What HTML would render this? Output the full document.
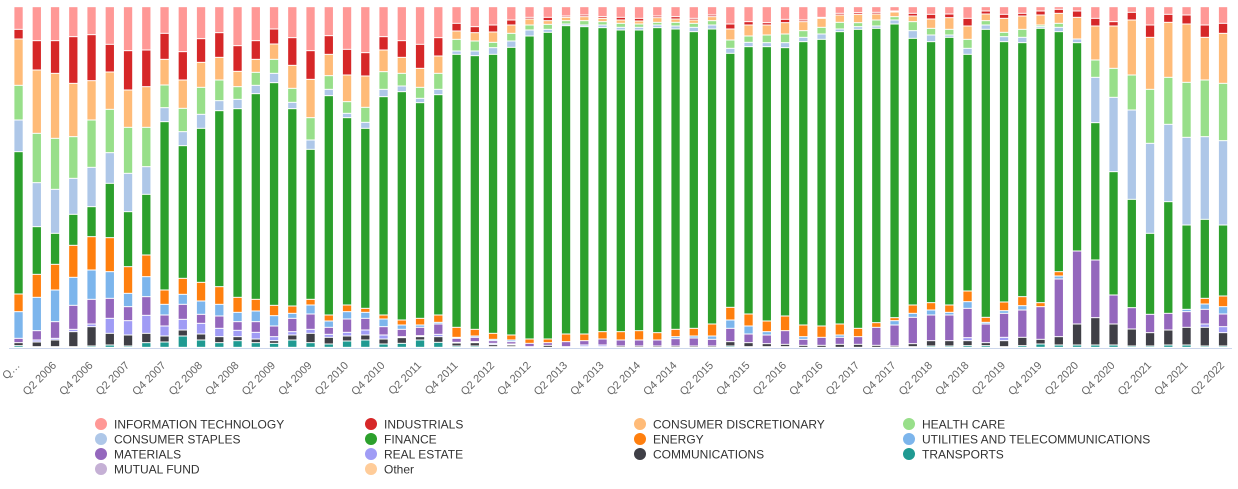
<!DOCTYPE html>
<html>
<head>
<meta charset="utf-8">
<style>
  html,body{margin:0;padding:0;background:#fff;}
  body{width:1238px;height:489px;overflow:hidden;}
  svg{display:block;}
  .xl{font-family:"Liberation Sans",sans-serif;font-size:11px;fill:#666666;}
  .lg{font-family:"Liberation Sans",sans-serif;font-size:12px;fill:#333333;}
</style>
</head>
<body>
<svg id="chart" width="1238" height="489" viewBox="0 0 1238 489" xmlns="http://www.w3.org/2000/svg">
  <rect x="0" y="0" width="1238" height="489" fill="#ffffff"/>
  <g id="bars"></g>
  <line x1="9" y1="348.5" x2="1232" y2="348.5" stroke="#ccd6eb" stroke-width="1"/>
  <g class="xl" text-anchor="end">
    <text transform="translate(20.5,366) rotate(-45)">Q…</text>
    <text transform="translate(57,366) rotate(-45)">Q2 2006</text>
    <text transform="translate(93.5,366) rotate(-45)">Q4 2006</text>
    <text transform="translate(130,366) rotate(-45)">Q2 2007</text>
    <text transform="translate(166.5,366) rotate(-45)">Q4 2007</text>
    <text transform="translate(203,366) rotate(-45)">Q2 2008</text>
    <text transform="translate(239.5,366) rotate(-45)">Q4 2008</text>
    <text transform="translate(276,366) rotate(-45)">Q2 2009</text>
    <text transform="translate(312.5,366) rotate(-45)">Q4 2009</text>
    <text transform="translate(349,366) rotate(-45)">Q2 2010</text>
    <text transform="translate(385.5,366) rotate(-45)">Q4 2010</text>
    <text transform="translate(422,366) rotate(-45)">Q2 2011</text>
    <text transform="translate(458.5,366) rotate(-45)">Q4 2011</text>
    <text transform="translate(495,366) rotate(-45)">Q2 2012</text>
    <text transform="translate(531.5,366) rotate(-45)">Q4 2012</text>
    <text transform="translate(568,366) rotate(-45)">Q2 2013</text>
    <text transform="translate(604.5,366) rotate(-45)">Q4 2013</text>
    <text transform="translate(641,366) rotate(-45)">Q2 2014</text>
    <text transform="translate(677.5,366) rotate(-45)">Q4 2014</text>
    <text transform="translate(714,366) rotate(-45)">Q2 2015</text>
    <text transform="translate(750.5,366) rotate(-45)">Q4 2015</text>
    <text transform="translate(787,366) rotate(-45)">Q2 2016</text>
    <text transform="translate(823.5,366) rotate(-45)">Q4 2016</text>
    <text transform="translate(860,366) rotate(-45)">Q2 2017</text>
    <text transform="translate(896.5,366) rotate(-45)">Q4 2017</text>
    <text transform="translate(933,366) rotate(-45)">Q2 2018</text>
    <text transform="translate(969.5,366) rotate(-45)">Q4 2018</text>
    <text transform="translate(1006,366) rotate(-45)">Q2 2019</text>
    <text transform="translate(1042.5,366) rotate(-45)">Q4 2019</text>
    <text transform="translate(1079,366) rotate(-45)">Q2 2020</text>
    <text transform="translate(1115.5,366) rotate(-45)">Q4 2020</text>
    <text transform="translate(1152,366) rotate(-45)">Q2 2021</text>
    <text transform="translate(1188.5,366) rotate(-45)">Q4 2021</text>
    <text transform="translate(1225,366) rotate(-45)">Q2 2022</text>
  </g>
  <g>
    <circle cx="101" cy="424" r="6" fill="#ff9896"/>
    <text class="lg" x="114" y="428.5">INFORMATION TECHNOLOGY</text>
    <circle cx="371" cy="424" r="6" fill="#d62728"/>
    <text class="lg" x="384" y="428.5">INDUSTRIALS</text>
    <circle cx="640" cy="424" r="6" fill="#ffbb78"/>
    <text class="lg" x="653" y="428.5">CONSUMER DISCRETIONARY</text>
    <circle cx="909" cy="424" r="6" fill="#98df8a"/>
    <text class="lg" x="922" y="428.5">HEALTH CARE</text>

    <circle cx="101" cy="439" r="6" fill="#aec7e8"/>
    <text class="lg" x="114" y="443.5">CONSUMER STAPLES</text>
    <circle cx="371" cy="439" r="6" fill="#2ca02c"/>
    <text class="lg" x="384" y="443.5">FINANCE</text>
    <circle cx="640" cy="439" r="6" fill="#ff7f0e"/>
    <text class="lg" x="653" y="443.5">ENERGY</text>
    <circle cx="909" cy="439" r="6" fill="#7cb5ec"/>
    <text class="lg" x="922" y="443.5">UTILITIES AND TELECOMMUNICATIONS</text>

    <circle cx="101" cy="454" r="6" fill="#9467bd"/>
    <text class="lg" x="114" y="458.5">MATERIALS</text>
    <circle cx="371" cy="454" r="6" fill="#a09cf5"/>
    <text class="lg" x="384" y="458.5">REAL ESTATE</text>
    <circle cx="640" cy="454" r="6" fill="#3f3f46"/>
    <text class="lg" x="653" y="458.5">COMMUNICATIONS</text>
    <circle cx="909" cy="454" r="6" fill="#1f9a92"/>
    <text class="lg" x="922" y="458.5">TRANSPORTS</text>

    <circle cx="101" cy="469" r="6" fill="#c5b0d5"/>
    <text class="lg" x="114" y="473.5">MUTUAL FUND</text>
    <circle cx="371" cy="469" r="6" fill="#ffcc99"/>
    <text class="lg" x="384" y="473.5">Other</text>
  </g>
</svg>
<script>
(function(){
  var C={it:'#ff9896',ind:'#d62728',cd:'#ffbb78',hc:'#98df8a',cs:'#aec7e8',fin:'#2ca02c',en:'#ff7f0e',ut:'#7cb5ec',mat:'#9467bd',re:'#a09cf5',com:'#3f3f46',tr:'#1f9a92',mf:'#c5b0d5',oth:'#ffcc99'};
  var D=[
"it88 ind117 cd256 hc360 cs455 fin882 en935 ut1015 mat1028 com1037 tr1042",
"it122 ind210 cd400 hc548 cs680 fin823 en892 ut992 mat1020 re1026 com1040 tr1042",
"it122 ind220 cd415 hc568 cs700 fin793 en870 ut965 mat1015 re1020 com1040 tr1042",
"it110 ind250 cd410 hc535 cs643 fin736 en832 ut916 mat988 re995 com1040 tr1042",
"it104 ind242 cd360 hc502 cs620 fin710 en810 ut898 mat972 re980 com1038 tr1042",
"it133 ind216 cd328 hc458 cs550 fin713 en815 ut895 mat955 re1000 com1035 tr1042",
"it152 ind270 cd382 hc520 cs635 fin800 en880 ut920 mat962 re1005 com1038 tr1042",
"it150 ind260 cd382 hc500 cs583 fin765 en830 ut890 mat946 re1000 com1028 tr1042",
"it100 ind178 cd255 hc323 cs365 fin870 en913 ut945 mat978 re1008 com1026 tr1042",
"it155 ind240 cd325 hc395 cs437 fin835 en883 ut913 mat958 re990 com1008 tr1042",
"it116 ind187 cd262 hc343 cs385 fin847 en903 ut943 mat970 re1002 com1020 tr1042",
"it98 ind172 cd240 hc302 cs332 fin860 en913 ut948 mat985 re1010 com1028 tr1042",
"it137 ind214 cd260 hc298 cs326 fin892 en937 ut965 mat991 re1010 com1022 tr1042",
"it122 ind178 cd217 hc256 cs281 fin898 en933 ut965 mat997 re1017 com1028 tr1042",
"it87 ind132 cd178 hc220 cs248 fin916 en947 ut978 mat1010 re1022 com1030 tr1042",
"it113 ind196 cd265 hc307 cs326 fin918 en940 ut955 mat995 re1005 com1020 tr1042",
"it152 ind238 cd353 hc420 cs448 fin898 en915 ut942 mat988 re1000 com1028 tr1042",
"it107 ind163 cd227 hc268 cs287 fin945 en963 ut982 mat1003 re1012 com1032 tr1042",
"it148 ind225 cd305 hc340 cs353 fin915 en935 ut957 mat997 re1008 com1023 tr1042",
"it158 ind228 cd322 hc367 cs385 fin925 en937 ut955 mat990 re1005 com1020 tr1042",
"it110 ind150 cd215 hc268 cs290 fin945 en957 ut980 mat1005 re1017 com1032 tr1042",
"it122 ind172 cd220 hc258 cs275 fin960 en975 ut988 mat1010 re1013 com1030 tr1042",
"it133 ind205 cd262 hc295 cs308 fin955 en975 ut982 mat1007 re1010 com1020 tr1042",
"it113 ind168 cd220 hc268 cs284 fin945 en967 ut972 mat1003 re1010 com1027 tr1042",
"it70 ind93 cd118 hc153 cs163 fin982 en1012 ut1015 mat1027 re1029 com1038 tr1042",
"it80 ind98 cd123 hc153 cs167 fin988 en1008 ut1012 mat1025 re1028 com1038 tr1042",
"it75 ind96 cd127 hc143 cs163 fin1000 en1018 ut1022 mat1030 re1034 com1040 tr1042",
"it60 ind75 cd100 hc123 cs142 fin1005 en1020 ut1025 mat1032 re1035 com1040 tr1042",
"it52 ind57 cd75 hc90 cs108 fin1017 en1030 mat1040 com1042",
"it52 ind62 cd73 hc88 cs97 fin1017 en1028 mat1036 com1042",
"it48 ind52 cd62 hc72 cs77 fin1002 en1025 mat1040 com1042",
"it45 ind50 cd62 hc75 cs80 fin1002 en1022 mat1035 re1040 com1042",
"it50 ind55 cd65 hc75 cs83 fin995 en1017 mat1035 re1040 com1042",
"it52 ind60 cd70 hc82 cs90 fin995 en1020 mat1038 com1042",
"it55 ind63 cd72 hc82 cs90 fin992 en1020 mat1038 com1042",
"it48 ind53 cd67 hc75 cs83 fin998 en1020 mat1038 com1042",
"it50 ind57 cd67 hc78 cs87 fin988 en1010 ut1016 mat1038 com1042",
"it55 ind60 cd70 hc82 cs95 fin985 en1008 ut1014 mat1038 com1042",
"it45 ind50 cd62 hc75 cs87 fin972 en1008 ut1018 mat1038 com1042",
"it72 ind87 cd120 hc145 cs160 fin922 en960 ut985 mat1025 com1038 tr1042",
"it65 ind75 cd108 hc127 cs140 fin942 en978 ut1002 mat1028 com1040 tr1042",
"it68 ind75 cd105 hc128 cs140 fin963 en995 ut1005 mat1031 com1040 tr1042",
"it58 ind68 cd102 hc128 cs143 fin948 en992 mat1033 com1040 tr1042",
"it60 ind65 cd92 hc112 cs125 fin975 en1010 ut1018 mat1036 com1042",
"it52 ind55 cd82 hc102 cs118 fin978 en1012 mat1036 com1042",
"it40 ind45 cd67 hc87 cs95 fin972 en1005 ut1012 mat1033 com1042",
"it38 ind43 cd68 hc80 cs88 fin985 en1010 mat1033 com1042",
"it37 ind42 cd60 hc78 cs85 fin968 en982 mat1036 com1042",
"it33 ind36 cd50 hc60 cs72 fin953 en962 ut975 mat1038 com1042",
"it40 ind48 cd65 hc92 cs115 fin915 en940 ut952 mat1031 com1040 tr1042",
"it43 ind57 cd85 hc105 cs125 fin908 en930 ut945 mat1022 com1038 tr1042",
"it42 ind53 cd88 hc105 cs112 fin915 en937 ut945 mat1022 com1038 tr1042",
"it55 ind78 cd118 hc145 cs163 fin873 en905 ut925 mat1013 re1022 com1037 tr1042",
"it33 ind42 cd62 hc75 cs88 fin952 en967 ut972 mat1028 com1037 tr1042",
"it43 ind55 cd97 hc110 cs125 fin906 en932 ut940 mat1012 re1022 com1040 tr1042",
"it40 ind48 cd88 hc112 cs128 fin890 en917 ut930 mat1012 com1037 tr1042",
"it33 ind45 cd75 hc80 cs85 fin908 en920 mat1018 com1032 tr1042",
"it28 ind40 cd70 hc82 cs95 fin815 en828 ut837 mat1010 com1035 tr1042",
"it33 ind52 cd117 cs128 fin753 mat972 com1035 tr1042",
"it55 ind78 cd180 hc232 cs368 fin780 mat953 com1035 tr1042",
"it65 ind78 cd205 hc292 cs515 fin885 mat972 com1035 tr1042",
"it37 ind60 cd225 hc330 cs598 fin923 mat987 com1038 tr1042",
"it75 ind112 cd268 hc430 cs700 fin943 mat998 com1038 tr1042",
"it43 ind67 cd232 hc373 cs605 fin940 mat990 com1035 tr1042",
"it45 ind72 cd247 hc412 cs675 fin928 ut935 mat982 com1035 tr1042",
"it75 ind112 cd240 hc410 cs658 fin895 en912 ut928 mat972 re982 com1038 tr1042",
"it70 ind100 cd250 hc422 cs675 fin888 en920 ut942 mat980 re998 com1038 tr1042"
  ];
  var NS='http://www.w3.org/2000/svg';
  var g=document.getElementById('bars');
  D.forEach(function(str,i){
    var x=14.4+18.25*i, p=20, re=/([a-z]+)(\d+)/g, m;
    while((m=re.exec(str))){
      var v=+m[2], y0=p/3, y1=v/3;
      if(y1-y0>1.2){
        var r=document.createElementNS(NS,'rect');
        r.setAttribute('x',x.toFixed(2));
        r.setAttribute('y',(y0+0.5).toFixed(2));
        r.setAttribute('width','8.3');
        r.setAttribute('height',(y1-y0-1).toFixed(2));
        r.setAttribute('fill',C[m[1]]);
        g.appendChild(r);
      }
      p=v;
    }
  });
})();
</script>
</body>
</html>
